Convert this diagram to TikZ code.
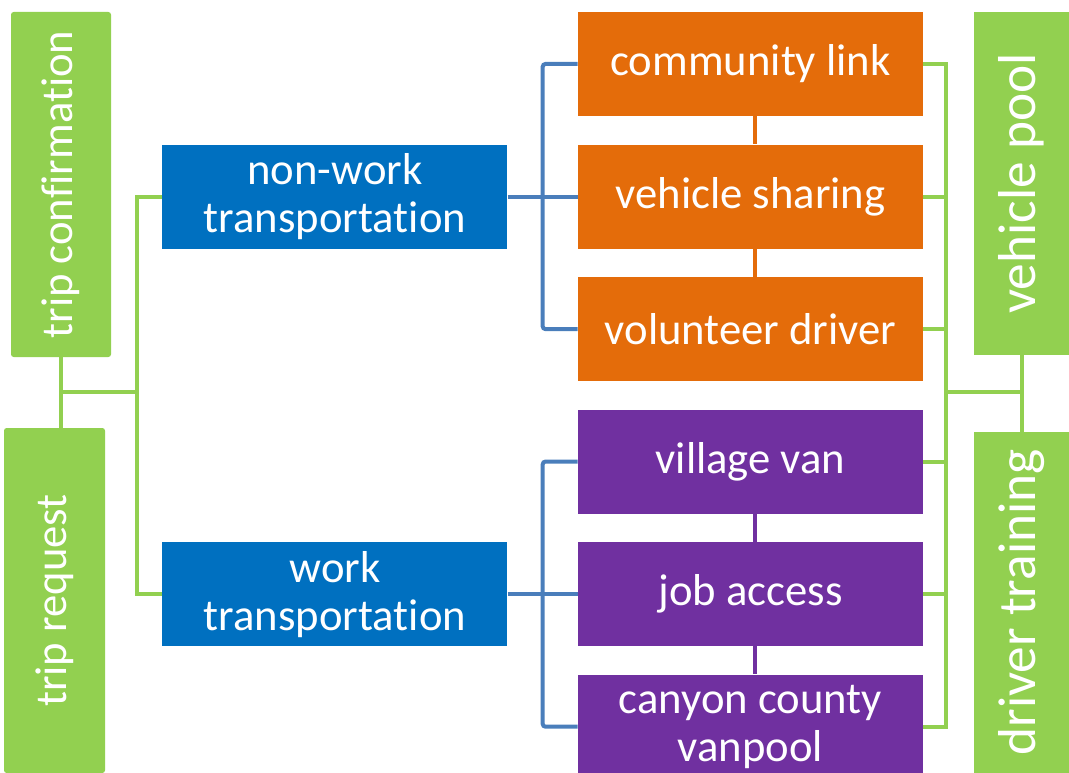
\documentclass[tikz,border=0pt]{standalone}
\usepackage{fontspec}
\setmainfont{Carlito}[Ligatures=NoCommon]
\usepackage{xcolor}
\usepackage{tikz}
\usetikzlibrary{positioning}
\usetikzlibrary{calc}
\definecolor{boxgreen}{HTML}{92D050}
\definecolor{boxblue}{HTML}{0070C0}
\definecolor{boxorange}{HTML}{E46C0A}
\definecolor{boxpurple}{HTML}{7030A0}
\definecolor{lineblue}{HTML}{4A7EBB}
\newcommand{\boxfont}{\fontsize{33.5}{36}\selectfont}
\newcommand{\poolfont}{\fontsize{40}{44}\selectfont}
\tikzstyle{sidebar} = [rectangle, rotate=90, inner sep=0pt, fill=boxgreen, text=white, font=\boxfont, minimum height=75pt]
\tikzstyle{category} = [rectangle, inner sep=0pt, fill=boxblue, text=white, align=center, font=\boxfont, minimum width=258.75pt, minimum height=78pt]
\tikzstyle{service} = [category, fill=boxorange]
\tikzstyle{greenline} = [line width=3pt, draw=boxgreen]
\tikzstyle{blueline} = [line width=3pt, draw=lineblue, rounded corners=2pt]
\tikzstyle{link} = [line width=3pt]

\begin{document}
\begin{tikzpicture}[x=0.75pt, y=0.75pt, node distance=21pt]
    \useasboundingbox (0,0) rectangle (1069,-773);
    \node(cl)[service] at (750.5,-64) {community link};
    \node(vs)[service, below=of cl] {vehicle sharing};
    \node(vd)[service, below=of vs] {volunteer driver};
    \node(vv)[service, fill=boxpurple, below=of vd] {village van};
    \node(ja)[service, fill=boxpurple, below=of vv] {job access};
    \node(cc)[service, fill=boxpurple, below=of ja] {canyon county\\vanpool};
    \node(nw)[category, left=52.5pt of vs] {non-work\\transportation};
    \node(wk)[category, left=52.5pt of ja] {work\\transportation};
    %
    \node(tc)[sidebar, rounded corners=2pt, minimum width=258.75pt] at (61,-184.5) {trip confirmation};
    \node(tr)[sidebar, rounded corners=2pt, minimum width=258.75pt, minimum height=75.75pt] at (54.5,-600.5) {trip request};
    \node(vp)[sidebar, font=\poolfont, minimum width=257.25pt, minimum height=71.25pt] at (1021.5,-183.5) {vehicle pool};
    \node(dt)[sidebar, font=\poolfont, minimum width=255.75pt, minimum height=71.25pt] at (1021.5,-602.5) {driver training};
    %
    \coordinate(lbus) at (137,-392);
    \draw [greenline] (tc.west) -- (tr.east -| tc.west);
    \draw [greenline] (lbus -| tc.west) -- (lbus);
    \draw [greenline] (nw.west) -| (lbus) |- (wk.west);
    %
    \coordinate(nb) at ($(nw.east)!0.5!(vs.west)$);
    \coordinate(wb) at ($(wk.east)!0.5!(ja.west)$);
    \draw [blueline] (nw.east) -- (vs.west);
    \draw [blueline] (cl.west) -| (nb) |- (vd.west);
    \draw [blueline] (wk.east) -- (ja.west);
    \draw [blueline] (vv.west) -| (wb) |- (cc.west);
    %
    \draw [link, boxorange] ([xshift=3.5pt]cl.south) -- ([xshift=3.5pt]vs.north);
    \draw [link, boxorange] ([xshift=3.5pt]vs.south) -- ([xshift=3.5pt]vd.north);
    \draw [link, boxpurple] ([xshift=3.5pt]vv.south) -- ([xshift=3.5pt]ja.north);
    \draw [link, boxpurple] ([xshift=3.5pt]ja.south) -- ([xshift=3.5pt]cc.north);
    %
    \coordinate(rbus) at (946,-392);
    \draw [greenline] (cl.east) -| (rbus) |- (cc.east);
    \draw [greenline] (vs.east) -- (vs.east -| rbus);
    \draw [greenline] (vd.east) -- (vd.east -| rbus);
    \draw [greenline] (vv.east) -- (vv.east -| rbus);
    \draw [greenline] (ja.east) -- (ja.east -| rbus);
    \draw [greenline] (rbus) -- (rbus -| vp.west);
    \draw [greenline] (vp.west) -- (dt.east);
\end{tikzpicture}
\end{document}
